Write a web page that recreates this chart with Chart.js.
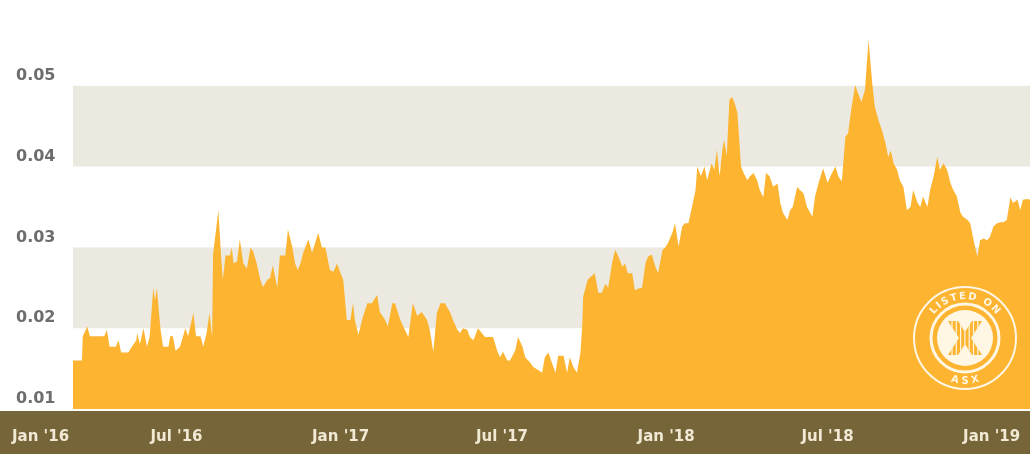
<!DOCTYPE html>
<html>
<head>
<meta charset="utf-8">
<script src="https://cdn.jsdelivr.net/npm/chart.js@4"></script>
<style>
  html, body { margin: 0; padding: 0; background: #ffffff; }
  #wrap { width: 1030px; height: 454px; }
</style>
</head>
<body>
<div id="wrap"><canvas id="priceChart" width="1030" height="454"></canvas></div>
<script>
// Share price history, area chart. x = days since 1 Jan 2016, y = price.

const days = [66,76,77,82,85,101,104,107,114,117,120,128,132,137,138,141,145,149,152,156,158,160,164,167,173,175,178,181,186,192,195,201,204,209,212,216,219,222,223,229,232,234,237,242,244,246,250,253,257,261,265,268,272,276,279,284,287,290,295,298,304,307,312,315,318,
  321,324,330,334,341,345,349,354,358,362,366,369,373,377,380,382,386,391,396,401,407,410,416,419,424,427,433,438,442,447,452,457,463,466,470,474,478,483,489,492,497,500,503,508,511,515,520,525,528,537,542,545,548,553,556,562,565,570,573,579,582,588,592,595,599,603,607,610,616,620,623,627,631,635,637,
  638,643,646,651,655,659,663,666,671,674,677,682,685,688,693,696,700,704,708,711,715,719,722,727,730,733,738,741,745,749,752,756,760,764,766,770,774,777,782,785,788,791,794,796,799,802,805,808,811,815,818,822,825,829,833,836,840,843,847,851,856,859,862,867,870,873,878,
  881,885,889,895,898,902,907,912,917,921,924,928,932,935,939,943,946,950,954,958,962,965,969,973,977,980,983,986,990,993,997,1001,1005,1008,1013,1016,1019,1024,1027,1031,1035,1038,1042,1046,1050,1053,1057,1061,1064,1069,1072,1075,1080,1083,1087,1091,1094,1098,1102,1106,1109,1113,1117,1120,1125,1128,1131,1136,1139];

const prices = [0.016,0.016,0.019,0.0202,0.019,0.019,0.0198,0.0177,0.0177,0.0185,0.017,0.017,0.0177,0.0185,0.0194,0.018,0.020,0.0177,0.019,0.025,0.0235,0.025,0.020,0.0177,0.0177,0.019,0.019,0.0172,0.0177,0.020,0.019,0.0219,0.019,0.019,0.0177,0.0195,0.0219,0.019,0.0291,0.0346,0.029,0.026,0.029,0.029,0.030,0.028,0.0283,0.031,0.028,0.0274,0.030,0.0295,0.028,0.026,0.0251,0.026,0.0262,0.0278,0.025,0.029,0.029,0.0322,0.030,0.028,0.0272,
  0.028,0.0293,0.031,0.0293,0.0318,0.030,0.030,0.0272,0.027,0.028,0.0268,0.026,0.021,0.021,0.0231,0.021,0.0192,0.0214,0.0231,0.0231,0.0241,0.022,0.021,0.0202,0.0231,0.0231,0.021,0.0198,0.0189,0.0231,0.0215,0.022,0.021,0.0198,0.0171,0.0219,0.0231,0.0231,0.0219,0.021,0.0198,0.0194,0.020,0.0198,0.0189,0.0185,0.020,0.0193,0.0189,0.0189,0.0171,0.0164,0.0171,0.016,0.016,0.0173,0.0189,0.0177,0.0164,0.0157,0.0152,0.0148,0.0145,0.0164,0.017,0.0157,0.0145,0.0166,0.0166,0.0145,0.0164,0.0152,0.0145,0.017,0.0205,
  0.0239,0.026,0.0263,0.0268,0.0244,0.0244,0.0255,0.025,0.0284,0.0297,0.029,0.0276,0.028,0.0268,0.0268,0.0247,0.0249,0.025,0.0281,0.0289,0.0291,0.0276,0.0268,0.0297,0.030,0.0305,0.0318,0.033,0.0301,0.0326,0.033,0.033,0.035,0.0371,0.040,0.0388,0.040,0.0383,0.0404,0.0396,0.0421,0.0388,0.0421,0.0433,0.0413,0.0483,0.0486,0.0478,0.0466,0.040,0.0392,0.0383,0.0388,0.0392,0.0383,0.0371,0.0362,0.0392,0.0388,0.0375,0.0379,0.0355,0.0343,0.0334,0.0346,0.035,0.0375,
  0.0371,0.0367,0.035,0.0338,0.0363,0.038,0.0398,0.038,0.0392,0.040,0.0388,0.0382,0.0437,0.0441,0.0474,0.0501,0.0491,0.048,0.0495,0.0557,0.0504,0.0474,0.0458,0.0445,0.0429,0.0412,0.042,0.0404,0.0396,0.0383,0.0375,0.0346,0.035,0.0371,0.0355,0.035,0.0363,0.035,0.0371,0.0388,0.0412,0.0396,0.0404,0.0396,0.0379,0.0371,0.0363,0.0343,0.0338,0.0334,0.033,0.0313,0.0288,0.0309,0.0311,0.0309,0.0313,0.0326,0.033,0.0331,0.0331,0.0334,0.0362,0.0355,0.0359,0.0346,0.0359,0.036,0.0359];

const tickDays = [0, 182, 366, 547, 731, 912, 1096];
const tickLabels = ["Jan '16", "Jul '16", "Jan '17", "Jul '17", "Jan '18", "Jul '18", "Jan '19"];
const bandRanges = [[0.02, 0.03], [0.04, 0.05]];

const AREA = '#fcb431';
const BAND = '#ebe9e0';
const FOOT = '#766539';
const FOOT_TEXT = '#f1e9d4';
const LOGO = '#fff6e4';

// alternating grey bands behind the area
const bandsPlugin = {
  id: 'bands',
  beforeDatasetsDraw(chart) {
    const { ctx, chartArea: a, scales: { y } } = chart;
    ctx.save();
    ctx.fillStyle = BAND;
    bandRanges.forEach(([lo, hi]) => {
      const top = y.getPixelForValue(hi);
      const bot = y.getPixelForValue(lo);
      ctx.fillRect(a.left, top, a.right - a.left, bot - top);
    });
    ctx.restore();
  }
};

// brown strip with the date labels
const footerPlugin = {
  id: 'footer',
  afterDraw(chart) {
    const { ctx, width, height, scales: { x } } = chart;
    ctx.save();
    ctx.fillStyle = FOOT;
    ctx.fillRect(0, 411, width, height - 411);
    ctx.font = 'bold 15px "DejaVu Sans"';
    ctx.fillStyle = FOOT_TEXT;
    ctx.textBaseline = 'middle';
    ctx.textAlign = 'left';
    tickDays.forEach((d, i) => {
      const w = ctx.measureText(tickLabels[i]).width;
      const left = Math.max(12, x.getPixelForValue(d) - w / 2);
      ctx.fillText(tickLabels[i], left, 437);
    });
    ctx.restore();
  }
};

function arcText(ctx, text, cx, cy, r, mid, bottom) {
  const gap = 1.6;
  const widths = [...text].map(c => ctx.measureText(c).width);
  const total = widths.reduce((s, w) => s + w + gap, -gap);
  let ang = bottom ? mid + total / 2 / r : mid - total / 2 / r;
  [...text].forEach((c, i) => {
    const half = widths[i] / 2 / r;
    ang += bottom ? -half : half;
    ctx.save();
    ctx.translate(cx + r * Math.cos(ang), cy + r * Math.sin(ang));
    ctx.rotate(bottom ? ang - Math.PI / 2 : ang + Math.PI / 2);
    ctx.fillText(c, 0, 0);
    ctx.restore();
    const step = half + gap / r;
    ang += bottom ? -step : step;
  });
}

// "LISTED ON ASX" badge
const badgePlugin = {
  id: 'badge',
  afterDatasetsDraw(chart) {
    const ctx = chart.ctx;
    const cx = 965, cy = 338;
    ctx.save();
    ctx.strokeStyle = LOGO;
    ctx.fillStyle = LOGO;
    ctx.lineWidth = 2;
    ctx.beginPath(); ctx.arc(cx, cy, 51, 0, Math.PI * 2); ctx.stroke();
    ctx.lineWidth = 3;
    ctx.beginPath(); ctx.arc(cx, cy, 34, 0, Math.PI * 2); ctx.stroke();
    ctx.beginPath(); ctx.arc(cx, cy, 28, 0, Math.PI * 2); ctx.fill();

    // the X
    const pts = [[-17,-17],[-7,-17],[0,-6],[7,-17],[17,-17],[6,0],[17,17],[7,17],[0,6],[-7,17],[-17,17],[-6,0]];
    ctx.beginPath();
    pts.forEach(([px, py], i) => i ? ctx.lineTo(cx + px, cy + py) : ctx.moveTo(cx + px, cy + py));
    ctx.closePath();
    ctx.fillStyle = AREA;
    ctx.fill();
    ctx.save();
    ctx.clip();
    ctx.strokeStyle = LOGO;
    ctx.lineWidth = 1.2;
    for (let dx = -13; dx <= 13; dx += 4.3) {
      ctx.beginPath(); ctx.moveTo(cx + dx, cy - 18); ctx.lineTo(cx + dx, cy + 18); ctx.stroke();
    }
    ctx.restore();

    ctx.fillStyle = LOGO;
    ctx.font = 'bold 10px "DejaVu Sans"';
    ctx.textAlign = 'center';
    ctx.textBaseline = 'alphabetic';
    arcText(ctx, 'LISTED ON', cx, cy, 39, -Math.PI / 2, false);
    ctx.textBaseline = 'top';
    arcText(ctx, 'ASX', cx, cy, 38, Math.PI / 2, true);
    ctx.restore();
  }
};

new Chart(document.getElementById('priceChart'), {
  type: 'line',
  data: {
    datasets: [{
      data: days.map((d, i) => ({ x: d, y: prices[i] })),
      fill: 'start',
      backgroundColor: AREA,
      borderColor: 'rgba(0,0,0,0)',
      borderWidth: 0,
      pointRadius: 0,
      tension: 0
    }]
  },
  options: {
    responsive: false,
    animation: false,
    layout: { padding: { left: 16, top: 5, right: 0, bottom: 45 } },
    plugins: { legend: { display: false }, tooltip: { enabled: false } },
    scales: {
      x: {
        type: 'linear',
        min: days[0],
        max: days[days.length - 1],
        display: false
      },
      y: {
        min: 0.01,
        max: 0.06,
        grid: { display: false },
        border: { display: false },
        ticks: {
          stepSize: 0.01,
          crossAlign: 'far',
          labelOffset: -10,
          padding: 0,
          color: '#6d6d6d',
          font: { family: 'DejaVu Sans', size: 16, weight: 'bold' },
          callback: v => v > 0.055 ? '' : v.toFixed(2)
        },
        afterFit: s => {
          s.width = 57;
          s.paddingTop = 0;
          s.paddingBottom = 0;
        }
      }
    }
  },
  plugins: [bandsPlugin, footerPlugin, badgePlugin]
});
</script>
</body>
</html>
